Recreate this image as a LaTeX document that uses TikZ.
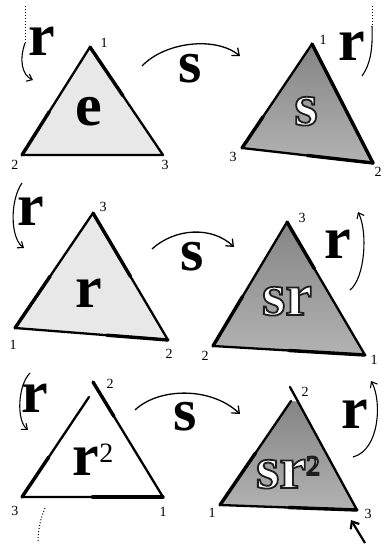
\documentclass[tikz,border=0pt]{standalone}
\usepackage{fontspec}
\setmainfont{Liberation Serif}
\usetikzlibrary{arrows.meta,calc}
\newcommand{\suptwo}{\raisebox{13pt}{\mdseries\fontsize{28}{28}\selectfont 2}}
\newcommand{\outlon}{\special{pdf:literal direct 2 Tr 1.8 w 0.12 G}}
\newcommand{\outloff}{\special{pdf:literal direct 0 Tr}}
\begin{document}
\begin{tikzpicture}[x=1pt,y=-1pt,
  big/.style={font=\bfseries\fontsize{60}{60}\selectfont, inner sep=0pt, anchor=base},
  outl/.style={big, text=white},
  num/.style={font=\fontsize{14}{14}\selectfont, inner sep=0pt},
  edge/.style={line width=2.3pt, line cap=round, line join=round},
  thickedge/.style={line width=3.4pt, line cap=round},
  sarrow/.style={line width=1.3pt, -{Straight Barb[length=6pt,width=10pt]}},
  rarrow/.style={line width=1.1pt, -{Straight Barb[length=5pt,width=8pt]}},
  rline/.style={line width=1.1pt},
  dots/.style={line width=1pt, dotted},
  lightfill/.style={fill=black!9},
  darkfill/.style={top color=black!48, bottom color=black!30},
]
\useasboundingbox (0,0) rectangle (387,546);
\fill[white] (0,0) rectangle (387,546);

% ---------- Triangle e ----------
\coordinate (t1a) at (90,47); \coordinate (t1b) at (22,155); \coordinate (t1c) at (163,155);
\fill[lightfill] (t1a) -- (t1b) -- (t1c) -- cycle;
\draw[edge] (t1a) -- (t1b) -- (t1c) -- cycle;
\draw[thickedge] (t1a) -- ($(t1a)!0.45!(t1c)$);
\draw[thickedge] ($(t1a)!0.6!(t1b)$) -- (t1b);
\node[big] (le) at (89,125) {e};
\node[num] (n11) at (104,43) {1};
\node[num] (n12) at (15,165) {2};
\node[num] (n13) at (165,165) {3};

% ---------- Triangle s ----------
\coordinate (t2a) at (312,44); \coordinate (t2b) at (242,148); \coordinate (t2c) at (373,163);
\shade[darkfill] (t2a) -- (t2b) -- (t2c) -- cycle;
\draw[edge] (t2a) -- (t2b) -- (t2c) -- cycle;
\draw[thickedge] (t2a) -- (t2c);
\draw[thickedge] ($(t2b)!0.5!(t2c)$) -- (t2c);
\draw[thickedge] ($(t2a)!0.7!(t2b)$) -- (t2b);
\node[outl] (ls) at (306,125) {\outlon s\outloff};
\node[num] (n21) at (323,40) {1};
\node[num] (n23) at (233,157) {3};
\node[num] (n22) at (378,172) {2};

% ---------- Triangle r ----------
\coordinate (t3a) at (93,213); \coordinate (t3b) at (15,328); \coordinate (t3c) at (168,340);
\fill[lightfill] (t3a) -- (t3b) -- (t3c) -- cycle;
\draw[edge] (t3a) -- (t3b) -- (t3c) -- cycle;
\draw[thickedge] (t3a) -- ($(t3a)!0.5!(t3c)$);
\draw[thickedge] ($(t3b)!0.6!(t3c)$) -- (t3c);
\draw[thickedge] ($(t3a)!0.55!(t3b)$) -- (t3b);
\node[big] (lr) at (89,307) {r};
\node[num] (n33) at (103,207) {3};
\node[num] (n31) at (13,345) {1};
\node[num] (n32) at (169,354) {2};

% ---------- Triangle sr ----------
\coordinate (t4a) at (287,222); \coordinate (t4b) at (213,346); \coordinate (t4c) at (365,355);
\shade[darkfill] (t4a) -- (t4b) -- (t4c) -- cycle;
\draw[edge] (t4a) -- (t4b) -- (t4c) -- cycle;
\draw[thickedge] (t4a) -- ($(t4a)!0.35!(t4c)$);
\draw[thickedge] ($(t4b)!0.5!(t4c)$) -- (t4c);
\draw[thickedge] ($(t4a)!0.6!(t4b)$) -- (t4b);
\node[outl] (lsr) at (287,315) {\outlon sr\outloff};
\node[num] (n43) at (302,218) {3};
\node[num] (n42) at (205,356) {2};
\node[num] (n41) at (374,360) {1};

% ---------- Triangle r^2 ----------
\coordinate (t5a) at (93,382); \coordinate (t5g) at (89,397); \coordinate (t5b) at (22,497); \coordinate (t5c) at (163,497);
\draw[edge] (t5g) -- (t5b) -- (t5c) -- (t5a);
\draw[thickedge] (t5a) -- ($(t5a)!0.3!(t5c)$);
\draw[thickedge] ($(t5b)!0.5!(t5c)$) -- (t5c);
\draw[thickedge] ($(t5g)!0.6!(t5b)$) -- (t5b);
\node[big] (lr2) at (93,475) {r\suptwo};
\node[num] (n52) at (110,384) {2};
\node[num] (n53) at (15,511) {3};
\node[num] (n51) at (163,512) {1};

% ---------- Triangle sr^2 ----------
\coordinate (t6a) at (290,387); \coordinate (t6g) at (291,401); \coordinate (t6b) at (220,505); \coordinate (t6c) at (357,510);
\shade[darkfill] (t6g) -- (t6b) -- (t6c) -- ($(t6a)!0.12!(t6c)$) -- cycle;
\draw[edge] (t6g) -- (t6b) -- (t6c) -- (t6a);
\draw[thickedge] ($(t6g)!0.5!(t6b)$) -- (t6b);
\draw[thickedge] ($(t6b)!0.5!(t6c)$) -- (t6c);
\node[outl] (lsr2) at (288,488) {\outlon sr\suptwo\outloff};
\node[num] (n62) at (305,392) {2};
\node[num] (n61) at (212,513) {1};
\node[num] (n63) at (368,514) {3};

% ---------- s arrows ----------
\coordinate (s1s) at (142,66); \coordinate (s1e) at (240,56);
\draw[sarrow] (s1s) .. controls (165,42) and (215,36) .. (s1e);
\node[big] (ls1) at (190,82) {s};
\coordinate (s2s) at (152,249); \coordinate (s2e) at (234,247);
\draw[sarrow] (s2s) .. controls (175,228) and (212,226) .. (s2e);
\node[big] (ls2) at (192,270) {s};
\coordinate (s3s) at (135,410); \coordinate (s3e) at (240,414);
\draw[sarrow] (s3s) .. controls (158,388) and (210,386) .. (s3e);
\node[big] (ls3) at (185,430) {s};

% ---------- r arrows ----------
\coordinate (r1s) at (25,6); \coordinate (r1m) at (25,43); \coordinate (r1e) at (33,80);
\draw[dots] (r1s) -- (r1m);
\draw[rarrow] (r1m) .. controls (19,60) and (22,75) .. (r1e);
\node[big] (lr1) at (42,55) {r};
\coordinate (q1s) at (372,6); \coordinate (q1m) at (372,26); \coordinate (q1e) at (362,76);
\draw[dots] (q1s) -- (q1m);
\draw[rline] (q1m) .. controls (373,50) and (370,65) .. (q1e);
\node[big] (lq1) at (352,60) {r};
\coordinate (r2s) at (22,183); \coordinate (r2e) at (24,248);
\draw[rarrow] (r2s) .. controls (10,200) and (10,238) .. (r2e);
\node[big] (lr2l) at (31,225) {r};
\coordinate (q2s) at (350,290); \coordinate (q2e) at (358,212);
\draw[rarrow] (q2s) .. controls (365,278) and (368,232) .. (q2e);
\node[big] (lq2) at (338,258) {r};
\coordinate (r3s) at (30,373); \coordinate (r3e) at (28,430);
\draw[rarrow] (r3s) .. controls (18,385) and (16,420) .. (r3e);
\node[big] (lr3) at (35,412) {r};
\coordinate (r3t) at (45,508); \coordinate (r3u) at (38,543);
\draw[dots] (r3t) .. controls (40,520) and (38,530) .. (r3u);
\coordinate (q3s) at (353,457); \coordinate (q3e) at (371,381);
\draw[rarrow] (q3s) .. controls (380,450) and (382,400) .. (q3e);
\node[big] (lq3) at (355,428) {r};
\coordinate (q3t) at (365,543); \coordinate (q3u) at (351,520);
\draw[line width=2.2pt, -{Straight Barb[length=6pt,width=10pt]}] (q3t) -- (q3u);
\end{tikzpicture}
\end{document}
